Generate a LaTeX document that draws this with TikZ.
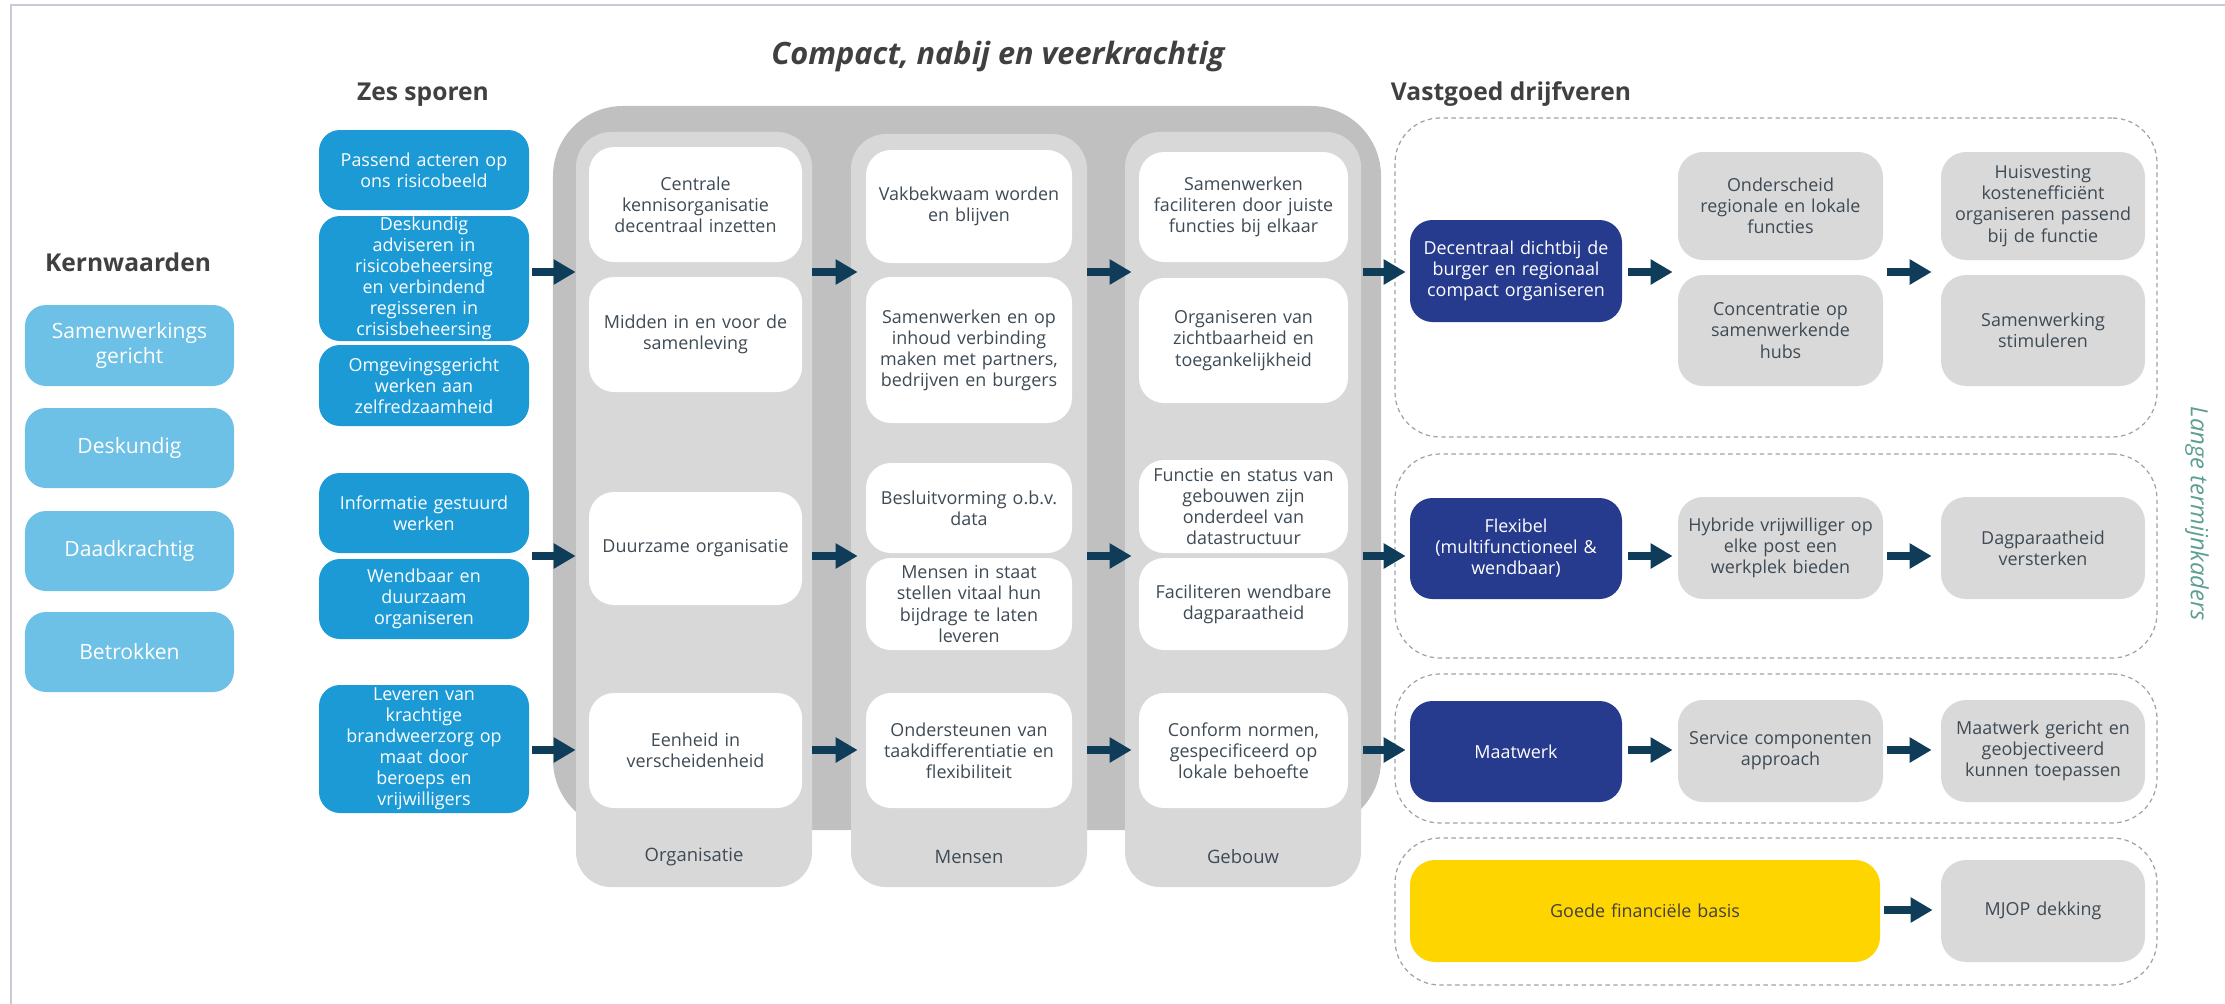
\documentclass[tikz,border=0pt]{standalone}
\usepackage{fontspec}
\setmainfont{Open Sans}
\usetikzlibrary{arrows.meta}
\definecolor{kernc}{HTML}{6DC0E6}
\definecolor{sporc}{HTML}{1B9AD6}
\definecolor{outerc}{HTML}{C0C0C0}
\definecolor{colc}{HTML}{D8D8D8}
\definecolor{navyc}{HTML}{263A8E}
\definecolor{grayb}{HTML}{D9D9D9}
\definecolor{yellc}{HTML}{FFD500}
\definecolor{arrowc}{HTML}{0F3C58}
\definecolor{txtc}{HTML}{3E4A54}
\definecolor{titc}{HTML}{404040}
\definecolor{dashc}{HTML}{9AA4AC}
\definecolor{tealc}{HTML}{5E9E92}
\definecolor{framec}{HTML}{CACAD6}
\newcommand\mybox[7]{%
  \pgfmathsetmacro\bxw{(#5-#3)*0.02}%
  \pgfmathsetmacro\bxh{(#6-#4)*0.02}%
  \pgfmathsetmacro\bxt{(#5-#3)*0.02-0.08}%
  \node[#2, minimum width=\bxw cm, minimum height=\bxh cm, text width=\bxt cm]
    (#1) at ({(#3+#5)/2},{(#4+#6)/2}) {#7};}
\begin{document}
\begin{tikzpicture}[x=0.02cm,y=-0.02cm,
  base/.style={rectangle, inner sep=0pt, align=center, font=\fontsize{10.2}{12}\selectfont},
  kern/.style={base, fill=kernc, rounded corners=0.42cm, text=white, font=\fontsize{12}{14}\selectfont},
  spor/.style={base, fill=sporc, rounded corners=0.42cm, text=white},
  outerbg/.style={base, fill=outerc, rounded corners=1.4cm},
  col/.style={base, fill=colc, rounded corners=0.7cm},
  wbox/.style={base, fill=white, rounded corners=0.5cm, text=txtc},
  navy/.style={base, fill=navyc, rounded corners=0.45cm, text=white},
  gbox/.style={base, fill=grayb, rounded corners=0.5cm, text=txtc},
  ybox/.style={base, fill=yellc, rounded corners=0.5cm, text=titc},
  grp/.style={base, draw=dashc, line width=0.7pt, dash pattern=on 2.5pt off 2pt, rounded corners=0.9cm},
  ttl/.style={text=titc, font=\fontsize{14}{16}\selectfont\bfseries},
  collab/.style={text=txtc, font=\fontsize{10.5}{12}\selectfont},
  arr/.style={draw=arrowc, line width=0.15cm, -{Triangle[length=0.44cm,width=0.48cm]}}
]
\useasboundingbox (0,0) rectangle (2225,1004);
% frame
\draw[framec, line width=0.06cm] (11,1004) -- (11,5) -- (2225,5);

% titles
\node[ttl, font=\fontsize{17.5}{19}\selectfont\bfseries\itshape] (title) at (998,57) {Compact, nabij en veerkrachtig};
\node[ttl] (tzes) at (423,95) {Zes sporen};
\node[ttl] (tkern) at (128,262) {Kernwaarden};
\node[ttl] (tvast) at (1511,94) {Vastgoed drijfveren};
\node[text=tealc, font=\fontsize{13.5}{15}\selectfont\itshape, rotate=-90] (lange) at (2197,514) {Lange termijnkaders};

% kernwaarden
\mybox{k1}{kern}{25}{305}{234}{386}{Samenwerkings\\gericht}
\mybox{k2}{kern}{25}{408}{234}{488}{Deskundig}
\mybox{k3}{kern}{25}{511}{234}{591}{Daadkrachtig}
\mybox{k4}{kern}{25}{612}{234}{692}{Betrokken}

% sporen
\mybox{sp1}{spor}{319}{130}{529}{210}{Passend acteren op\\ons risicobeeld}
\mybox{sp2}{spor}{319}{216}{529}{341}{Deskundig\\adviseren in\\risicobeheersing\\en verbindend\\regisseren in\\crisisbeheersing}
\mybox{sp3}{spor}{319}{345}{529}{426}{Omgevingsgericht\\werken aan\\zelfredzaamheid}
\mybox{sp4}{spor}{319}{473}{529}{553}{Informatie gestuurd\\werken}
\mybox{sp5}{spor}{319}{559}{529}{639}{Wendbaar en\\duurzaam\\organiseren}
\mybox{sp6}{spor}{319}{685}{529}{813}{Leveren van\\krachtige\\brandweerzorg op\\maat door\\beroeps en\\vrijwilligers}

% grey block
\mybox{outer}{outerbg}{553}{106}{1381}{830}{}
\mybox{orgcol}{col}{576}{132}{812}{887}{}
\mybox{mencol}{col}{851}{134}{1087}{887}{}
\mybox{gebcol}{col}{1125}{132}{1361}{887}{}
\node[collab] (lorg) at (694,857) {Organisatie};
\node[collab] (lmen) at (969,857) {Mensen};
\node[collab] (lgeb) at (1243,857) {Gebouw};

% organisatie
\mybox{o1}{wbox}{589}{147}{802}{262}{Centrale\\kennisorganisatie\\decentraal inzetten}
\mybox{o2}{wbox}{589}{277}{802}{392}{Midden in en voor de\\samenleving}
\mybox{o3}{wbox}{589}{492}{802}{605}{Duurzame organisatie}
\mybox{o4}{wbox}{589}{693}{802}{808}{Eenheid in\\verscheidenheid}
% mensen
\mybox{m1}{wbox}{866}{150}{1072}{263}{Vakbekwaam worden\\en blijven}
\mybox{m2}{wbox}{866}{277}{1072}{423}{Samenwerken en op\\inhoud verbinding\\maken met partners,\\bedrijven en burgers}
\mybox{m3}{wbox}{866}{463}{1072}{553}{Besluitvorming o.b.v.\\data}
\mybox{m4}{wbox}{866}{558}{1072}{650}{Mensen in staat\\stellen vitaal hun\\bijdrage te laten\\leveren}
\mybox{m5}{wbox}{866}{693}{1072}{808}{Ondersteunen van\\taakdifferentiatie en\\flexibiliteit}
% gebouw
\mybox{g1}{wbox}{1139}{152}{1348}{262}{Samenwerken\\faciliteren door juiste\\functies bij elkaar}
\mybox{g2}{wbox}{1139}{278}{1348}{403}{Organiseren van\\zichtbaarheid en\\toegankelijkheid}
\mybox{g3}{wbox}{1139}{460}{1348}{553}{Functie en status van\\gebouwen zijn\\onderdeel van\\datastructuur}
\mybox{g4}{wbox}{1139}{558}{1348}{650}{Faciliteren wendbare\\dagparaatheid}
\mybox{g5}{wbox}{1139}{693}{1348}{808}{Conform normen,\\gespecificeerd op\\lokale behoefte}

% groups
\mybox{gr1}{grp}{1395}{118}{2157}{437}{}
\mybox{gr2}{grp}{1395}{454}{2157}{658}{}
\mybox{gr3}{grp}{1395}{674}{2157}{823}{}
\mybox{gr4}{grp}{1395}{838}{2157}{985}{}

% vastgoed
\mybox{dec}{navy}{1410}{220}{1622}{322}{Decentraal dichtbij de\\burger en regionaal\\compact organiseren}
\mybox{flex}{navy}{1410}{498}{1622}{599}{Flexibel\\(multifunctioneel \&\\wendbaar)}
\mybox{maat}{navy}{1410}{701}{1622}{802}{Maatwerk}
\mybox{goede}{ybox}{1410}{860}{1880}{962}{Goede financiële basis}
\mybox{on1}{gbox}{1678}{152}{1883}{260}{Onderscheid\\regionale en lokale\\functies}
\mybox{co1}{gbox}{1678}{275}{1883}{386}{Concentratie op\\samenwerkende\\hubs}
\mybox{hyb}{gbox}{1678}{497}{1883}{599}{Hybride vrijwilliger op\\elke post een\\werkplek bieden}
\mybox{serv}{gbox}{1678}{700}{1883}{802}{Service componenten\\approach}
\mybox{hu1}{gbox}{1941}{152}{2145}{260}{Huisvesting\\kostenefficiënt\\organiseren passend\\bij de functie}
\mybox{sa1}{gbox}{1941}{275}{2145}{386}{Samenwerking\\stimuleren}
\mybox{dag}{gbox}{1941}{497}{2145}{599}{Dagparaatheid\\versterken}
\mybox{mg}{gbox}{1941}{700}{2145}{802}{Maatwerk gericht en\\geobjectiveerd\\kunnen toepassen}
\mybox{mjop}{gbox}{1941}{860}{2145}{962}{MJOP dekking}

% rows
\coordinate (r1) at (0,272);
\coordinate (r2) at (0,556);
\coordinate (r3) at (0,750);
\coordinate (r4) at (0,910);

% arrows
\draw[arr, shorten <=0.06cm] (sp2.east |- r1) -- (orgcol.west |- r1);
\draw[arr, shorten <=0.06cm] (sp4.east |- r2) -- (orgcol.west |- r2);
\draw[arr, shorten <=0.06cm] (sp6.east |- r3) -- (orgcol.west |- r3);
\foreach \r in {r1,r2,r3} {
  \draw[arr, shorten >=-0.14cm] (orgcol.east |- \r) -- (mencol.west |- \r);
  \draw[arr, shorten >=-0.14cm] (mencol.east |- \r) -- (gebcol.west |- \r);
}
\draw[arr, shorten <=0.04cm, shorten >=0.08cm] (gebcol.east |- r1) -- (dec.west |- r1);
\draw[arr, shorten <=0.04cm, shorten >=0.08cm] (gebcol.east |- r2) -- (flex.west |- r2);
\draw[arr, shorten <=0.04cm, shorten >=0.08cm] (gebcol.east |- r3) -- (maat.west |- r3);
\draw[arr, shorten <=0.12cm, shorten >=0.1cm] (dec.east |- r1) -- (on1.west |- r1);
\draw[arr, shorten <=0.12cm, shorten >=0.1cm] (flex.east |- r2) -- (hyb.west |- r2);
\draw[arr, shorten <=0.12cm, shorten >=0.1cm] (maat.east |- r3) -- (serv.west |- r3);
\draw[arr, shorten <=0.08cm, shorten >=0.18cm] (on1.east |- r1) -- (hu1.west |- r1);
\draw[arr, shorten <=0.08cm, shorten >=0.18cm] (hyb.east |- r2) -- (dag.west |- r2);
\draw[arr, shorten <=0.08cm, shorten >=0.18cm] (serv.east |- r3) -- (mg.west |- r3);
\draw[arr, shorten <=0.08cm, shorten >=0.16cm] (goede.east |- r4) -- (mjop.west |- r4);
\end{tikzpicture}
\end{document}
